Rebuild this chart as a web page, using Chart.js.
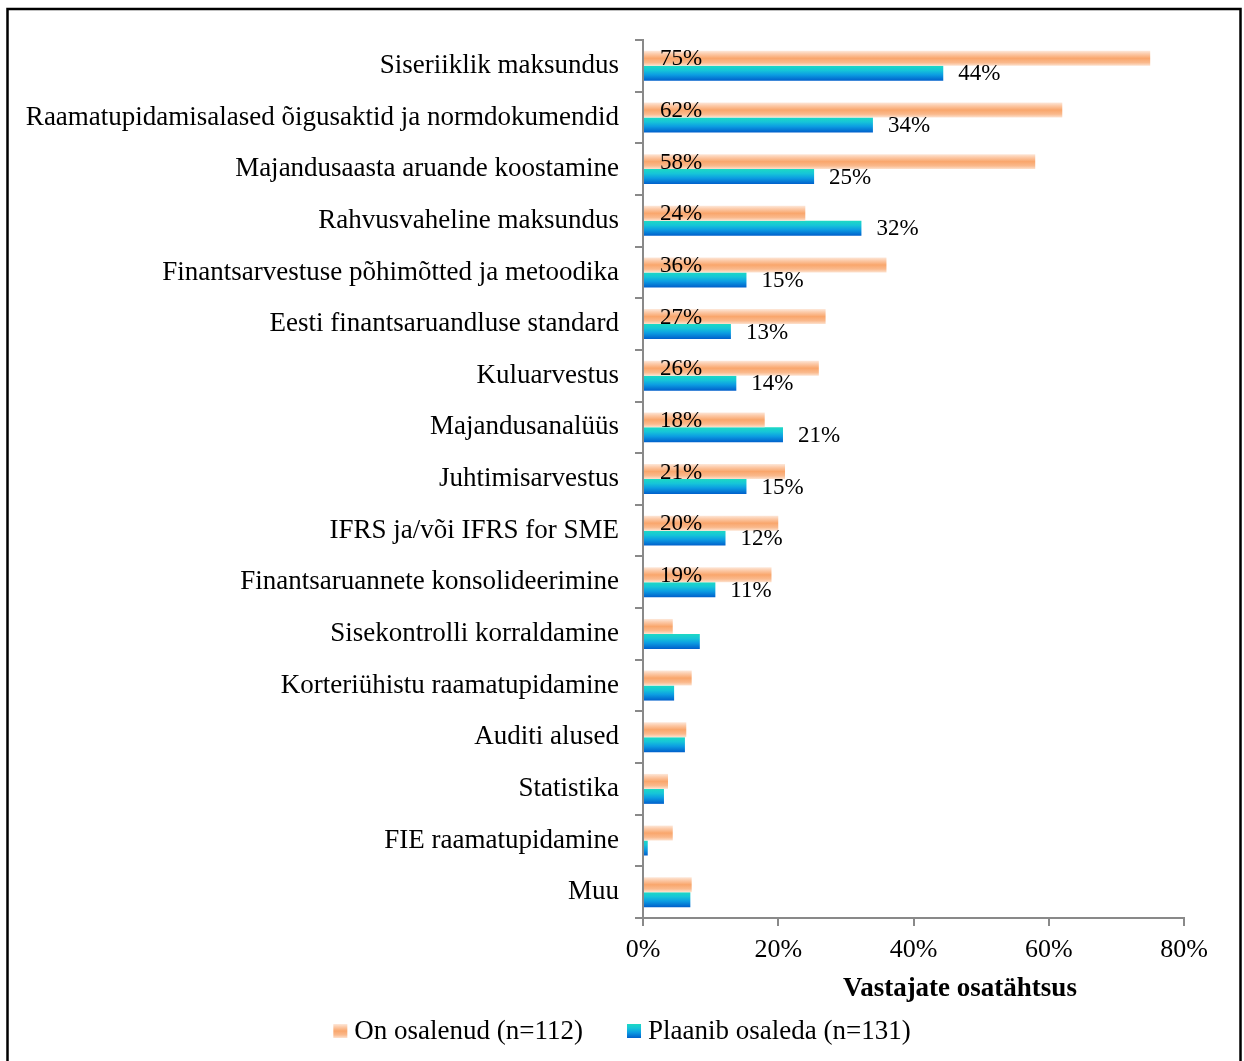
<!DOCTYPE html>
<html>
<head>
<meta charset="utf-8">
<script src="https://cdn.jsdelivr.net/npm/chart.js@4.4.1/dist/chart.umd.min.js"></script>
<style>
  html, body { margin: 0; padding: 0; background: #fff; }
  #wrap { position: relative; width: 1244px; height: 1061px; }
</style>
</head>
<body>
<div id="wrap"><canvas id="myChart"></canvas></div>
<script>
/* globals Chart:false */

// Data
const categories = [
  'Siseriiklik maksundus',
  'Raamatupidamisalased õigusaktid ja normdokumendid',
  'Majandusaasta aruande koostamine',
  'Rahvusvaheline maksundus',
  'Finantsarvestuse põhimõtted ja metoodika',
  'Eesti finantsaruandluse standard',
  'Kuluarvestus',
  'Majandusanalüüs',
  'Juhtimisarvestus',
  'IFRS ja/või IFRS for SME',
  'Finantsaruannete konsolideerimine',
  'Sisekontrolli korraldamine',
  'Korteriühistu raamatupidamine',
  'Auditi alused',
  'Statistika',
  'FIE raamatupidamine',
  'Muu'
]
const seriesNames = ['On osalenud (n=112)', 'Plaanib osaleda (n=131)']
const osalenud = [75, 62, 58, 24, 36, 27, 26, 18, 21, 20, 19, 4.4, 7.2, 6.4, 3.7, 4.4, 7.2]
const plaanib  = [44.4, 34, 25.3, 32.3, 15.3, 13, 13.8, 20.7, 15.3, 12.2, 10.7, 8.4, 4.6, 6.2, 3.1, 0.7, 7.0]
const labelledRows = 11   // only the first rows carry value labels
const xTickValues = [0, 20, 40, 60, 80]
const axisTitle = 'Vastajate osatähtsus'

// Styles
const SERIF = "'Liberation Serif', 'Times New Roman', serif"
const AXIS = '#898989'
const CAT_PCT = 0.58
const orangeStops = [[0, '#fde8da'], [0.2, '#fccbaa'], [0.5, '#f9a66c'], [0.78, '#fab98c'], [1, '#fde2cf']]
const blueStops = [[0, '#1dd9c4'], [0.3, '#16c5d8'], [0.6, '#0c9de2'], [1, '#005fcb']]

function barGradient (stops) {
  return (c) => {
    const chart = c.chart
    const ys = chart.scales && chart.scales.y
    if (!ys || c.type !== 'data' || !ys.height) return stops[2][1]
    const cat = ys.height / categories.length
    const w = cat * CAT_PCT / 2
    const top = ys.getPixelForValue(c.dataIndex) - w + c.datasetIndex * w
    const g = chart.ctx.createLinearGradient(0, top, 0, top + w)
    stops.forEach(s => g.addColorStop(s[0], s[1]))
    return g
  }
}

function fillStops (ctx, stops, x, y, w, h) {
  const g = ctx.createLinearGradient(0, y, 0, y + h)
  stops.forEach(s => g.addColorStop(s[0], s[1]))
  ctx.fillStyle = g
  ctx.fillRect(x, y, w, h)
}

// frame, axis title, value labels and legend
const extras = {
  id: 'extras',
  afterDatasetsDraw (chart) {
    const ctx = chart.ctx
    ctx.save()
    ctx.font = '23px ' + SERIF
    ctx.fillStyle = '#000'
    ctx.textAlign = 'left'
    ctx.textBaseline = 'middle'
    const m0 = chart.getDatasetMeta(0)
    const m1 = chart.getDatasetMeta(1)
    for (let i = 0; i < labelledRows; i++) {
      const a = m0.data[i]
      ctx.fillText(Math.round(osalenud[i]) + '%', a.base + 16, a.y + 1)
      const b = m1.data[i]
      ctx.fillText(Math.round(plaanib[i]) + '%', b.x + 15, b.y + 1)
    }
    ctx.restore()
  },
  afterDraw (chart) {
    const ctx = chart.ctx
    ctx.save()
    // frame
    ctx.strokeStyle = '#000'
    ctx.lineWidth = 2.5
    ctx.strokeRect(7.5, 9, 1233, 1100)
    // axis title
    ctx.fillStyle = '#000'
    ctx.font = 'bold 27px ' + SERIF
    ctx.textAlign = 'center'
    ctx.textBaseline = 'middle'
    ctx.fillText(axisTitle, 960, 989)
    // legend
    ctx.font = '27px ' + SERIF
    ctx.textAlign = 'left'
    const box = 14, gapText = 7, gapItem = 44
    const widths = seriesNames.map(t => ctx.measureText(t).width)
    const total = widths.reduce((s, w) => s + box + gapText + w, 0) + gapItem
    let x = (chart.width - total) / 2
    const yc = 1031
    seriesNames.forEach((t, i) => {
      fillStops(ctx, i === 0 ? orangeStops : blueStops, x, yc - box / 2, box, box)
      ctx.fillStyle = '#000'
      ctx.fillText(t, x + box + gapText, yc + 1)
      x += box + gapText + widths[i] + gapItem
    })
    ctx.restore()
  }
}

const ctx = document.getElementById('myChart')
const myChart = new Chart(ctx, {
  type: 'bar',
  data: {
    labels: categories,
    datasets: [
      { label: seriesNames[0], data: osalenud, backgroundColor: barGradient(orangeStops) },
      { label: seriesNames[1], data: plaanib, backgroundColor: barGradient(blueStops) }
    ]
  },
  options: {
    indexAxis: 'y',
    responsive: true,
    maintainAspectRatio: false,
    animation: false,
    events: [],
    categoryPercentage: CAT_PCT,
    barPercentage: 1,
    layout: { padding: { left: 10, right: 60, top: 40, bottom: 103 } },
    plugins: {
      legend: { display: false },
      tooltip: { enabled: false }
    },
    scales: {
      x: {
        min: 0,
        max: 80,
        afterBuildTicks: (s) => { s.ticks = xTickValues.map(v => ({ value: v })) },
        afterFit: (s) => { s.height = 40 },
        border: { display: true, color: AXIS, width: 2 },
        grid: { drawOnChartArea: false, drawTicks: true, tickLength: 8, color: AXIS, lineWidth: 2 },
        ticks: {
          callback: (v) => v + '%',
          color: '#000',
          padding: 9,
          font: { family: SERIF, size: 26 }
        }
      },
      y: {
        afterFit: (s) => { s.width = 633 },
        border: { display: true, color: AXIS, width: 2 },
        grid: { drawOnChartArea: false, drawTicks: true, tickLength: 8, color: AXIS, lineWidth: 2 },
        ticks: {
          color: '#000',
          padding: 16,
          autoSkip: false,
          font: { family: SERIF, size: 27 }
        }
      }
    }
  },
  plugins: [extras]
})
</script>
</body>
</html>
